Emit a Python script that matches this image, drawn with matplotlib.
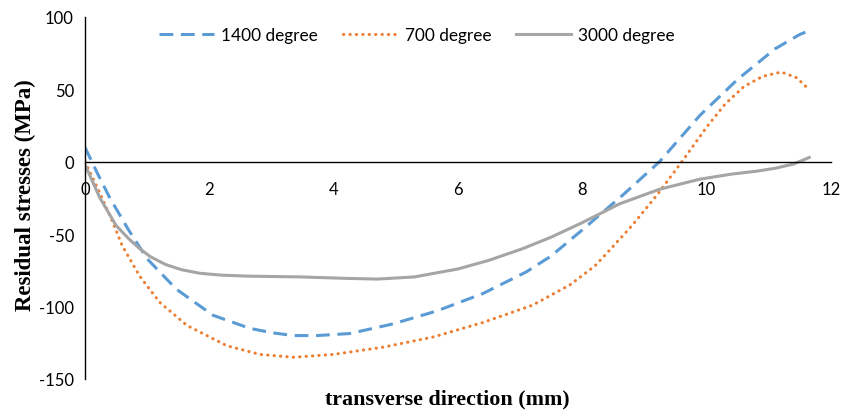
import numpy as np
import matplotlib.pyplot as plt

plt.rcParams['axes.unicode_minus'] = False

# values
x_1400 = [0, 0.2, 0.4, 0.7, 1.0, 1.47, 2.06, 2.65, 3.0, 3.35, 3.73, 4.26, 4.95, 5.66, 6.4, 7.1, 7.5, 8.0, 8.65, 9.24, 9.89, 10.5, 11.1, 11.5, 11.62]
y_1400 = [10, -8, -25, -47, -67, -88, -106, -115, -118, -120, -120, -118.6, -112, -103, -91, -76, -65, -47, -23, 0, 32, 57, 78, 88, 90]

x_700 = [0, 0.2, 0.4, 0.6, 0.88, 1.2, 1.64, 2.28, 2.81, 3.35, 4.0, 4.8, 5.6, 6.4, 7.2, 7.8, 8.2, 8.44, 8.8, 9.2, 9.6, 10.0, 10.3, 10.6, 10.9, 11.2, 11.45, 11.62]
y_700 = [0, -18, -37, -58, -79, -97, -113, -127, -133, -135, -133, -128, -121, -111, -99, -85, -72, -61, -44, -23, 0, 24, 40, 52, 59, 62, 58, 51]

x_3000 = [0, 0.24, 0.5, 0.7, 0.88, 1.05, 1.3, 1.55, 1.85, 2.2, 2.65, 3.46, 4.2, 4.7, 5.3, 6.0, 6.5, 7.04, 7.5, 8.0, 8.6, 9.24, 9.89, 10.4, 10.8, 11.1, 11.4, 11.65]
y_3000 = [-2, -25, -44, -53, -60, -65.5, -71, -74.5, -77, -78.3, -79, -79.5, -80.5, -81, -79.5, -74, -68, -60, -52, -42, -29, -19, -12, -8.5, -6.5, -4.5, -1.5, 3]

fig = plt.figure(figsize=(8.57, 4.14), dpi=100)
ax = fig.add_axes([85/857, 1-380/414, (831-85)/857, (380-18)/414])

ax.plot(x_1400, y_1400, color='#5B9BD5', lw=2.2, linestyle=(0, (4.5, 2.5)), label='1400 degree')
ax.plot(x_700, y_700, color='#ED7D31', lw=2.2, linestyle=(0, (0.1, 2.0)), dash_capstyle='round', label='700 degree')
ax.plot(x_3000, y_3000, color='#A5A5A5', lw=2.2, label='3000 degree')

ax.set_xlim(0, 12)
ax.set_ylim(-150, 100)
ax.set_xticks([0, 2, 4, 6, 8, 10, 12])
ax.set_yticks([-150, -100, -50, 0, 50, 100])

# axis styling: x axis sits at zero, no box
ax.spines['top'].set_visible(False)
ax.spines['right'].set_visible(False)
ax.spines['bottom'].set_position(('data', 0))
ax.spines['bottom'].set_linewidth(1.0)
ax.spines['left'].set_linewidth(1.0)
ax.tick_params(axis='both', length=0, labelsize=12)
ax.tick_params(axis='x', pad=14)
ax.tick_params(axis='y', pad=8)
for lab in ax.get_xticklabels() + ax.get_yticklabels():
    lab.set_fontfamily('Lato')

fig.text(25/857, 1-195/414, 'Residual stresses (MPa)', rotation=90, ha='center', va='center',
         fontsize=16.5, fontweight='bold', family='Liberation Serif')
fig.text(447/857, 1-399/414, 'transverse direction (mm)', ha='center', va='center',
         fontsize=15.8, fontweight='bold', family='Liberation Serif')

leg = ax.legend(loc='center', bbox_to_anchor=(0.445, 0.95), ncol=3, frameon=False,
                prop={'family': 'Lato', 'size': 12.4}, handlelength=3.2, handletextpad=0.4,
                columnspacing=1.45)

fig.savefig('out.png', dpi=100)
